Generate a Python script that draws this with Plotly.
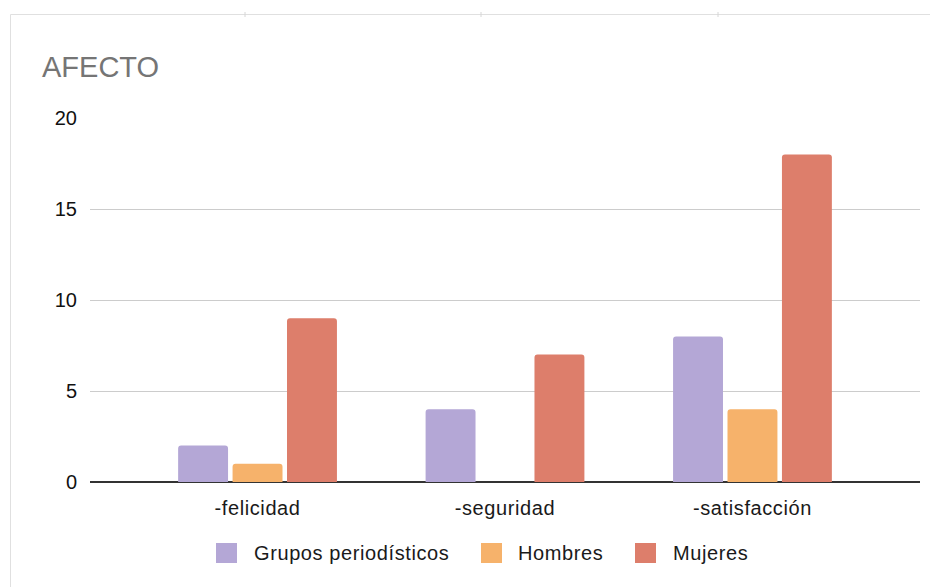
import plotly.graph_objects as go

categories = ["-felicidad", "-seguridad", "-satisfacción"]
series_names = ["Grupos periodísticos", "Hombres", "Mujeres"]
grupos = [2, 4, 8]
hombres = [1, 0, 4]
mujeres = [9, 7, 18]
series_values = [grupos, hombres, mujeres]
colors = ["#b4a7d6", "#f6b26b", "#dd7e6b"]
y_ticks = [0, 5, 10, 15, 20]

# page body has an 8px margin; work in reference pixel coords and shift
OFF = 8
W, H = 938 - OFF, 587 - OFF
PLOT_L, PLOT_R, PLOT_T, PLOT_B = 90, 920, 118, 482  # reference pixels
L, R, T, B = PLOT_L - OFF, W - (PLOT_R - OFF), PLOT_T - OFF, H - (PLOT_B - OFF)
PW, PH = W - L - R, H - T - B

def px(x):
    return (x - OFF - L) / PW

def py(y):
    return (H - B - (y - OFF)) / PH

FONT = "Liberation Sans, Arial, sans-serif"

def spaced(s):
    return '<span style="letter-spacing:0.6px">' + s + '</span>'

fig = go.Figure()
for name, vals, col in zip(series_names, series_values, colors):
    fig.add_trace(go.Bar(x=categories, y=vals, name=name, marker_color=col,
                         marker_line_width=0, showlegend=False))

fig.update_layout(
    width=W, height=H,
    margin=dict(l=L, r=R, t=T, b=B, autoexpand=False),
    paper_bgcolor="white", plot_bgcolor="white",
    barmode="group", bargap=0.34, bargroupgap=0.083, barcornerradius=3,
    font=dict(family=FONT, color="#1a1a1a"),
    title=dict(text="AFECTO", x=(42 - OFF) / W, xanchor="left", xref="container",
               y=1 - (67 - OFF) / H, yanchor="middle", yref="container",
               font=dict(size=29, color="#757575", family=FONT)),
    xaxis=dict(range=[-0.677, 2.677], showgrid=False, showline=False,
               zeroline=False, ticks="", ticklabelstandoff=12,
               tickvals=categories, ticktext=[spaced(c) for c in categories],
               tickfont=dict(size=20, color="#1a1a1a")),
    yaxis=dict(range=[0, 20], tickvals=y_ticks, showgrid=True,
               gridcolor="#cccccc", gridwidth=1, zeroline=True,
               zerolinecolor="#333333", zerolinewidth=1.5, showline=False,
               ticks="", ticklabelstandoff=12,
               tickfont=dict(size=20, color="#111111")),
)

shapes = []
# outer border
shapes.append(dict(type="rect", xref="paper", yref="paper",
                   x0=px(10.5), x1=px(950), y0=py(600), y1=py(14.5),
                   line=dict(color="#e0e0e0", width=1), fillcolor="rgba(0,0,0,0)",
                   layer="below"))
for tx in [245, 481, 718]:
    shapes.append(dict(type="line", xref="paper", yref="paper",
                       x0=px(tx), x1=px(tx), y0=py(12), y1=py(17),
                       line=dict(color="#d6d6d6", width=1)))

# legend
leg_sq = [216, 481, 635]
leg_tx = [252, 516, 671]
leg_y = 553
for name, col, sx, tx in zip(series_names, colors, leg_sq, leg_tx):
    shapes.append(dict(type="rect", xref="paper", yref="paper",
                       x0=px(sx), x1=px(sx + 21), y0=py(leg_y + 10), y1=py(leg_y - 10),
                       line=dict(width=0), fillcolor=col))
    fig.add_annotation(text=spaced(name), xref="paper", yref="paper", x=px(tx), y=py(leg_y),
                       xanchor="left", yanchor="middle", showarrow=False,
                       font=dict(size=20, color="#1a1a1a", family=FONT))

fig.update_layout(shapes=shapes)
fig.write_html("out.html")
